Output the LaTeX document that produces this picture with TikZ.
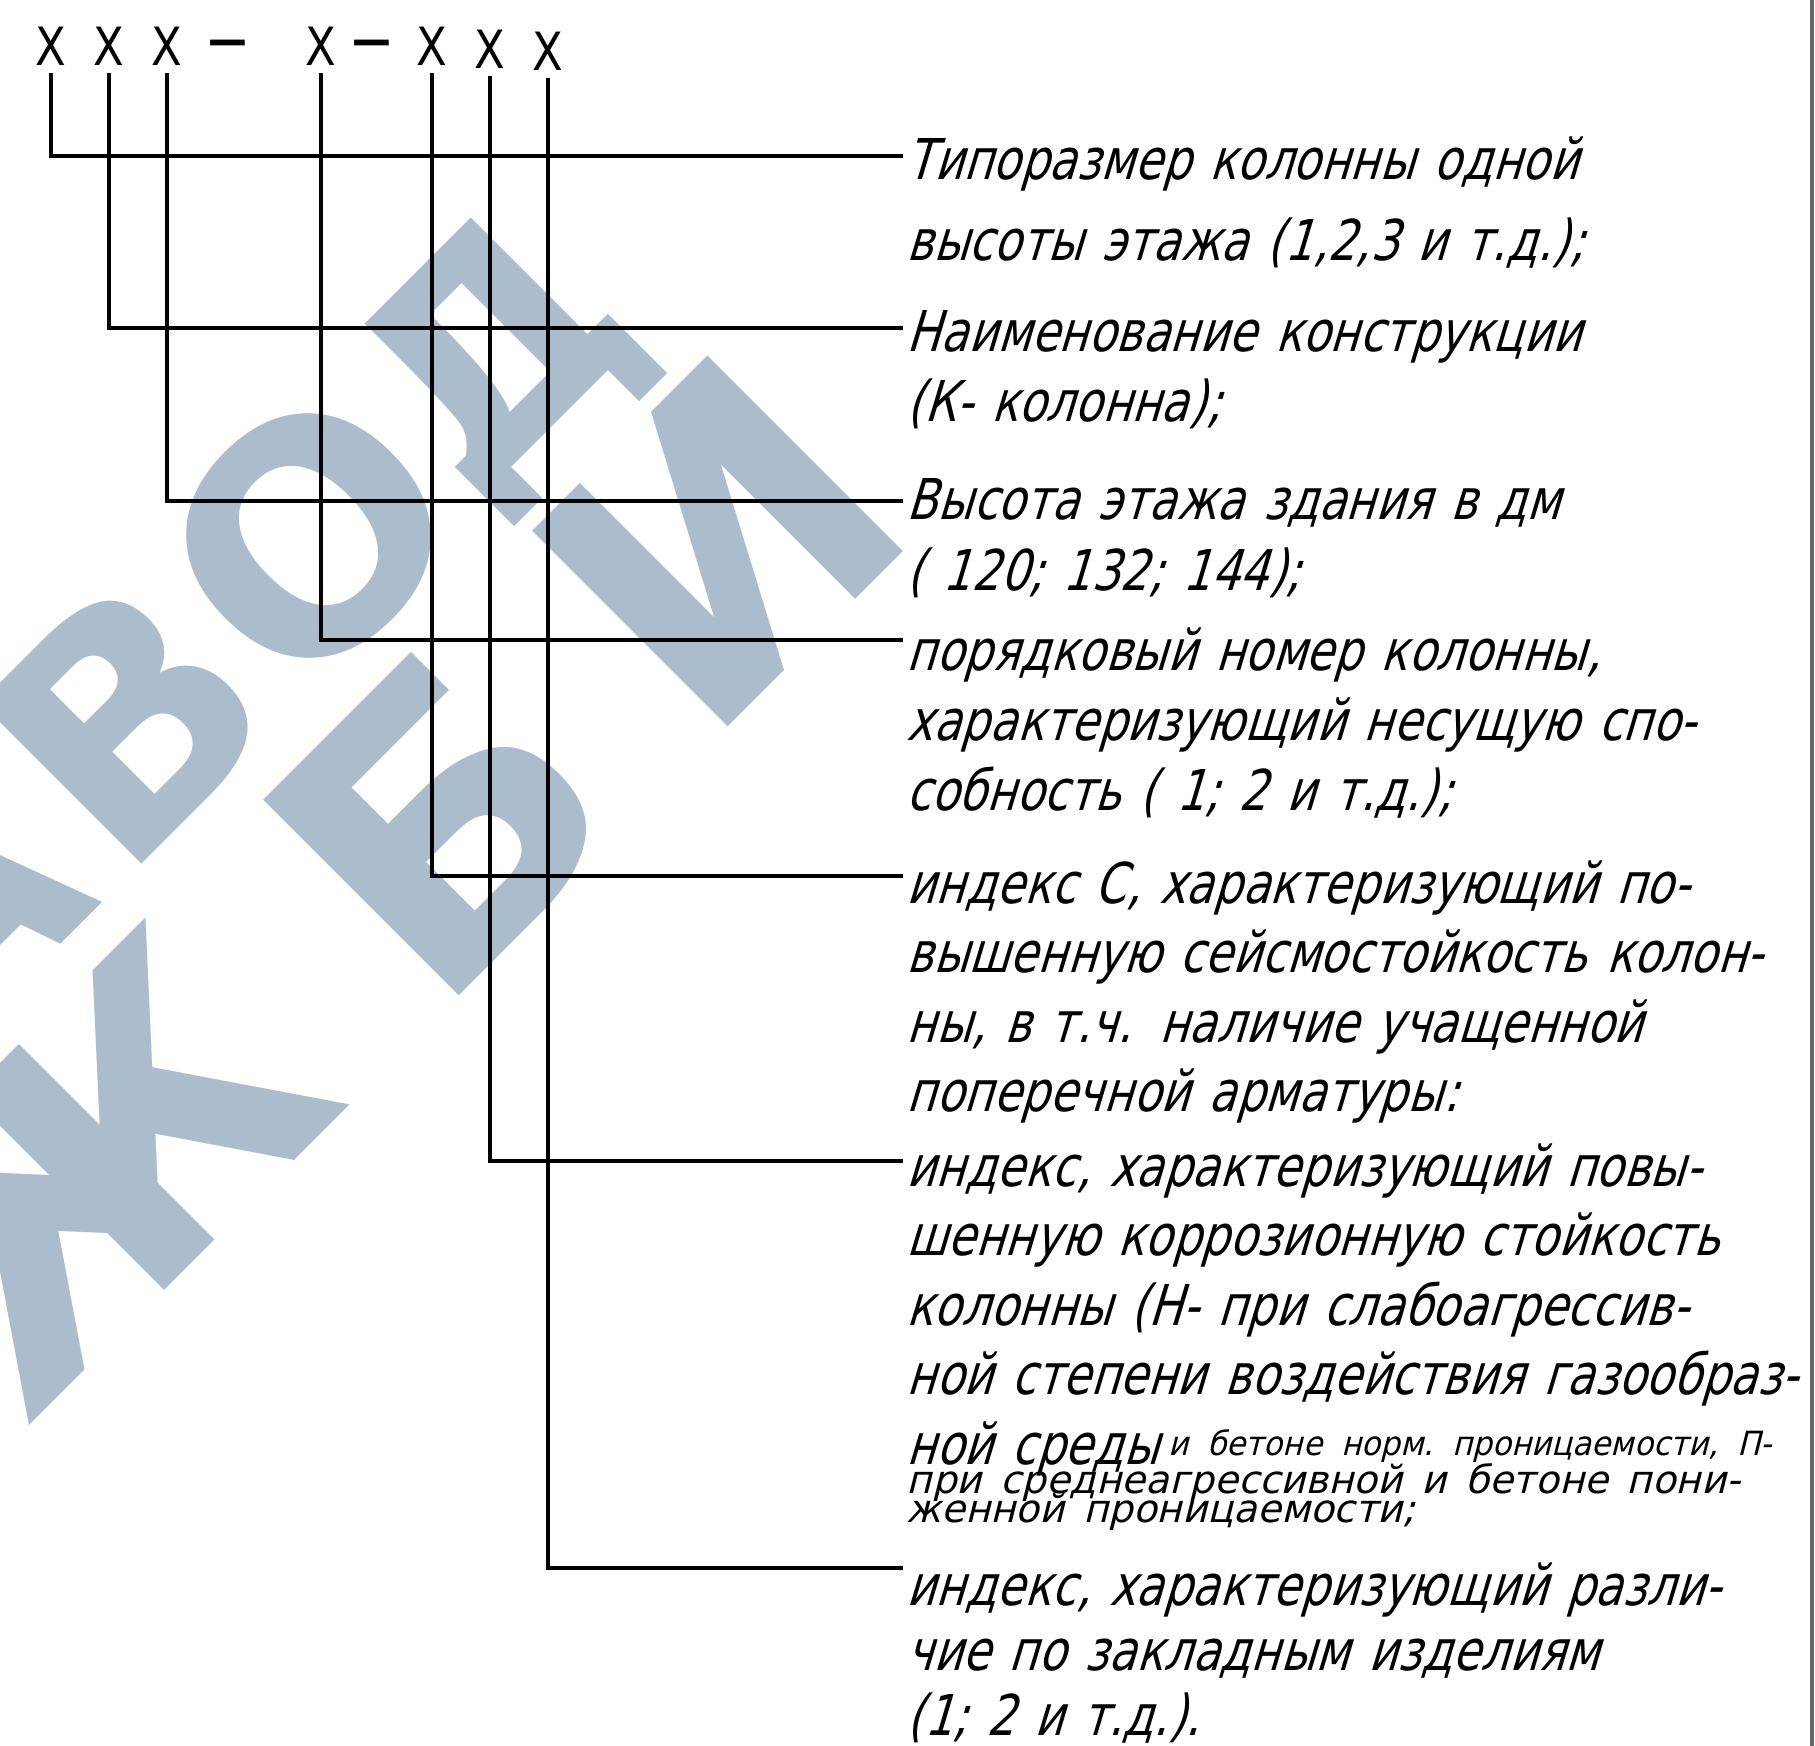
\documentclass[tikz,border=0pt]{standalone}
\usepackage{fontspec}
\setmainfont{DejaVu Sans}
\newfontfamily\gostfont{DejaVu Sans}[FakeSlant=0.3, FakeStretch=0.8]
\newfontfamily\gostsmall{DejaVu Sans}[FakeSlant=0.25]
\newfontfamily\gostsmallc{DejaVu Sans}[FakeSlant=0.25, FakeStretch=0.93]
\newfontfamily\gostup{DejaVu Sans}[FakeStretch=0.85]
\newfontfamily\wmfont{DejaVu Sans}
\definecolor{wmblue}{RGB}{171,188,205}

\tikzset{
  code/.style={inner sep=2pt, font=\gostup\fontsize{15pt}{15pt}\selectfont},
  desc/.style={anchor=base west, inner sep=0pt, text width=12cm, align=left,
    font=\gostfont\fontsize{16pt}{#1}\selectfont},
  lead/.style={line width=1.2pt},
  wmletter/.style={rotate=45, inner sep=0pt, text depth=0pt, text=wmblue,
    font=\wmfont\bfseries\fontsize{#1}{#1}\selectfont}
}
\newcommand{\smalltxt}[1]{\gostsmall\fontsize{#1}{12pt}\selectfont\frenchspacing}

\begin{document}
\begin{tikzpicture}[x=0.1mm, y=-0.1mm]
  \useasboundingbox (0,0) rectangle (1815,1746);

  % watermark
  \begin{scope}
    \clip (0,0) rectangle (1815,1746);
    \begin{scope}[rotate=45]
      \foreach \ch/\t in {З/-950, А/-685, В/-420, О/-161}
        \node[wmletter=89pt, text height=65pt] at (\t,597) {\ch};
      \node[wmletter=80pt, text height=58pt] at (100,590) {Д};
      \foreach \ch/\t in {Ж/-760, Б/-270, И/125}
        \node[wmletter=108pt, text height=79pt] at (\t,890) {\ch};
    \end{scope}
  \end{scope}

  % right edge of the sheet
  \draw[black!60, line width=1.4pt] (1812,0) -- (1812,1746);

  % code of the column
  \node[code] (xa) at (51,46) {X};
  \node[code] (xb) at (109,46) {X};
  \node[code] (xc) at (167,46) {X};
  \node[code, font=\gostup\bfseries\fontsize{13pt}{13pt}\selectfont] (dashA) at (228,48) {—};
  \node[code] (xd) at (321,46) {X};
  \node[code, font=\gostup\bfseries\fontsize{13pt}{13pt}\selectfont] (dashB) at (372,48) {—};
  \node[code] (xe) at (432,46) {X};
  \node[code] (xf) at (490,49) {X};
  \node[code] (xg) at (548,51) {X};

  % ends of the leaders
  \coordinate (ea) at (903,156);
  \coordinate (eb) at (903,328);
  \coordinate (ec) at (903,501);
  \coordinate (ed) at (903,640);
  \coordinate (ee) at (903,876);
  \coordinate (ef) at (903,1161);
  \coordinate (eg) at (903,1568);

  \draw[lead] (xa.south) |- (ea);
  \draw[lead] (xb.south) |- (eb);
  \draw[lead] (xc.south) |- (ec);
  \draw[lead] (xd.south) |- (ed);
  \draw[lead] (xe.south) |- (ee);
  \draw[lead] (xf.south) |- (ef);
  \draw[lead] (xg.south) |- (eg);

  % explanations
  \node[desc=22.8pt] (da) at (906,180)
    {Типоразмер колонны одной\\высоты этажа (1,2,3 и т.д.);};
  \node[desc=19.9pt] (db) at (906,352)
    {Наименование конструкции\\(К- колонна);};
  \node[desc=20pt] (dc) at (906,520)
    {Высота этажа здания в дм\\( 120; 132; 144);};
  \node[desc=19.8pt] (dd) at (906,671)
    {порядковый номер колонны,\\характеризующий несущую спо-\\собность ( 1; 2 и т.д.);};
  \node[desc=19.8pt] (de) at (906,903)
    {индекс С, характеризующий по-\\вышенную сейсмостойкость колон-\\ны, в т.ч. наличие учащенной\\поперечной арматуры:};
  \node[desc=19.8pt] (df) at (906,1186)
    {индекс, характеризующий повы-\\шенную коррозионную стойкость\\колонны (Н- при слабоагрессив-\\ной степени воздействия газообраз-\\ной среды\,\raisebox{2.5pt}{\gostsmallc\fontsize{9.5pt}{12pt}\selectfont\frenchspacing и бетоне норм. проницаемости, П-}\\[-11.5pt]
     {\smalltxt{11pt}при среднеагрессивной и бетоне пони-}\\[-11.6pt]
     {\smalltxt{11pt}женной проницаемости;}};
  \node[desc=18.5pt] (dg) at (906,1605)
    {индекс, характеризующий разли-\\чие по закладным изделиям\\(1; 2 и т.д.).};
\end{tikzpicture}
\end{document}
